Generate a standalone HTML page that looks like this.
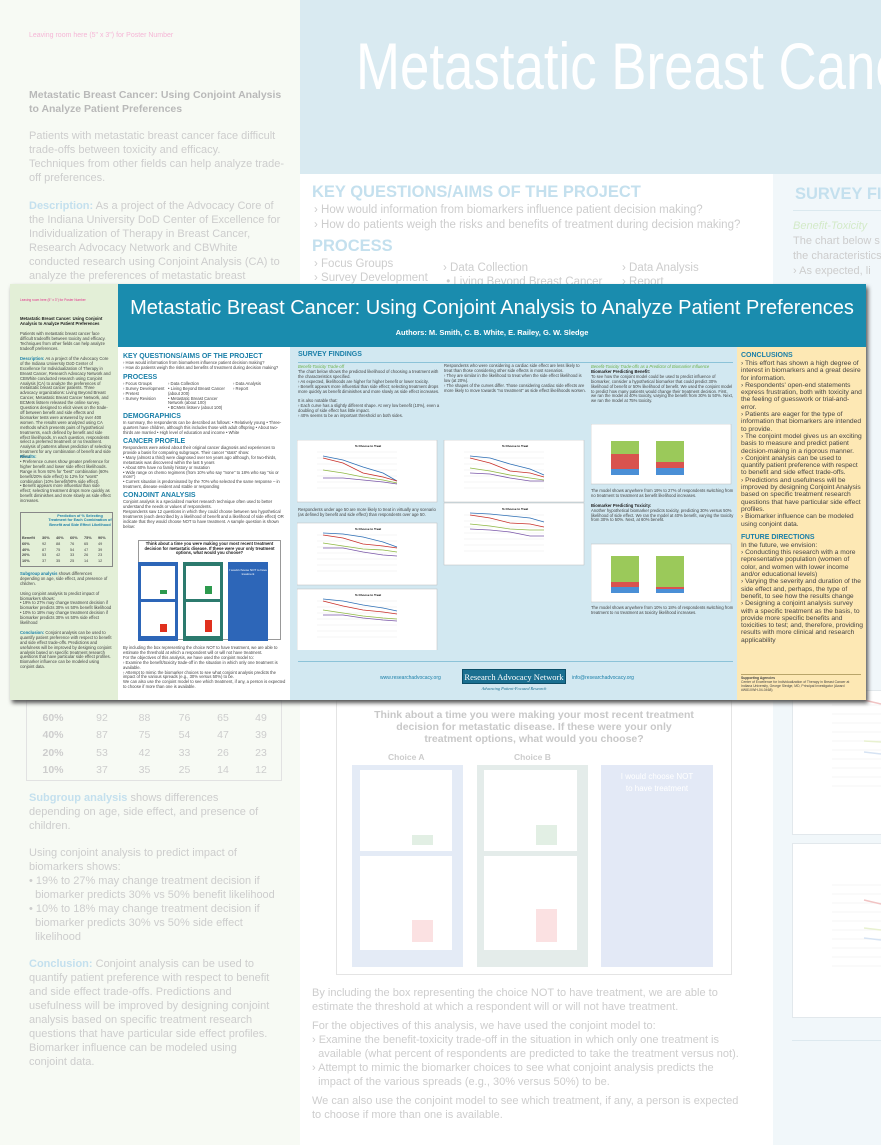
<!DOCTYPE html>
<html><head><meta charset="utf-8"><style>
*{margin:0;padding:0;box-sizing:border-box}
html,body{width:881px;height:1145px;overflow:hidden}
body{position:relative;background:#fff;font-family:"Liberation Sans",sans-serif}
.a{position:absolute}
.bg{color:#cdcdcd;font-size:11px;line-height:14px}
.t{font-size:4.2px;line-height:4.9px;color:#444}
.h{font-weight:bold;color:#1a7fa8;font-size:7px;line-height:8px}
.y{font-size:6.7px;line-height:7.3px;color:#444}
#clip{position:absolute;left:0;top:0;width:881px;height:1145px;overflow:hidden}
</style></head><body>
<div id="clip">
<div class="a" style="left:0;top:0;width:300px;height:1145px;background:#f7faf4"></div>
<div class="a" style="left:300px;top:0;width:581px;height:174px;background:#d9eaf1"></div>
<div class="a" style="left:773px;top:174px;width:108px;height:971px;background:#f1f7fa"></div>
<div class="a" style="left:356px;top:28px;font-size:66px;color:#fff;white-space:nowrap;transform:scaleX(0.8);transform-origin:left top">Metastatic Breast Cancer</div>
<div class="a" style="left:29px;top:32px;font-size:7px;color:#f6b6d6">Leaving room here (5" x 3") for Poster Number</div>
<div class="a" style="left:29px;top:89px;width:260px;font-weight:bold;font-size:10.5px;line-height:13.5px;color:#b9b9b9">Metastatic Breast Cancer: Using Conjoint Analysis to Analyze Patient Preferences</div>
<div class="a bg" style="left:29px;top:129px;width:258px">Patients with metastatic breast cancer face difficult trade-offs between toxicity and efficacy.<br>Techniques from other fields can help analyze trade-off preferences.</div>
<div class="a bg" style="left:29px;top:199px;width:262px"><b style="color:#c4e0ee">Description:</b> As a project of the Advocacy Core of the Indiana University DoD Center of Excellence for Individualization of Therapy in Breast Cancer, Research Advocacy Network and CBWhite conducted research using Conjoint Analysis (CA) to analyze the preferences of metastatic breast</div>
<div class="a" style="left:312px;top:183px;font-size:16.5px;font-weight:bold;color:#c4e0ee;white-space:nowrap">KEY QUESTIONS/AIMS OF THE PROJECT</div>
<div class="a bg" style="left:314px;top:203px;font-size:11.5px;line-height:14.5px;white-space:nowrap">› How would information from biomarkers influence patient decision making?<br>› How do patients weigh the risks and benefits of treatment during decision making?</div>
<div class="a" style="left:312px;top:237px;font-size:16.5px;font-weight:bold;color:#c4e0ee">PROCESS</div>
<div class="a bg" style="left:314px;top:257px;font-size:11.5px">› Focus Groups<br>› Survey Development</div>
<div class="a bg" style="left:443px;top:261px;font-size:11.5px">› Data Collection<br>&nbsp;• Living Beyond Breast Cancer</div>
<div class="a bg" style="left:622px;top:261px;font-size:11.5px">› Data Analysis<br>› Report</div>
<div class="a" style="left:795px;top:185px;font-size:16.5px;font-weight:bold;color:#c4e0ee;white-space:nowrap">SURVEY FI</div>
<div class="a" style="left:793px;top:210px;width:88px;border-top:1px solid #dbe9ef"></div>
<div class="a bg" style="left:793px;top:219px;font-size:11px;line-height:15px;white-space:nowrap"><i style="color:#d3eac8">Benefit-Toxicity</i><br>The chart below s<br>the characteristics<br>› As expected, li</div>
<div class="a" style="left:26px;top:700px;width:256px;height:81px;border:1px solid #e2e2e2"></div>
<div class="a bg" style="left:26px;top:710px;font-size:10.5px;line-height:17.3px;width:256px">
<div style="display:flex"><b style="width:54px;text-align:center">60%</b><span style="width:44px;text-align:center">92</span><span style="width:41px;text-align:center">88</span><span style="width:39px;text-align:center">76</span><span style="width:38px;text-align:center">65</span><span style="width:38px;text-align:center">49</span></div>
<div style="display:flex"><b style="width:54px;text-align:center">40%</b><span style="width:44px;text-align:center">87</span><span style="width:41px;text-align:center">75</span><span style="width:39px;text-align:center">54</span><span style="width:38px;text-align:center">47</span><span style="width:38px;text-align:center">39</span></div>
<div style="display:flex"><b style="width:54px;text-align:center">20%</b><span style="width:44px;text-align:center">53</span><span style="width:41px;text-align:center">42</span><span style="width:39px;text-align:center">33</span><span style="width:38px;text-align:center">26</span><span style="width:38px;text-align:center">23</span></div>
<div style="display:flex"><b style="width:54px;text-align:center">10%</b><span style="width:44px;text-align:center">37</span><span style="width:41px;text-align:center">35</span><span style="width:39px;text-align:center">25</span><span style="width:38px;text-align:center">14</span><span style="width:38px;text-align:center">12</span></div></div>
<div class="a bg" style="left:29px;top:791px;width:262px">
<div><b style="color:#c4e0ee">Subgroup analysis</b> shows differences<br>depending on age, side effect, and presence of<br>children.</div>
<div style="margin-top:13px">Using conjoint analysis to predict impact of<br>biomarkers shows:<br>• 19% to 27% may change treatment decision if<br>&nbsp;&nbsp;biomarker predicts 30% vs 50% benefit likelihood<br>• 10% to 18% may change treatment decision if<br>&nbsp;&nbsp;biomarker predicts 30% vs 50% side effect<br>&nbsp;&nbsp;likelihood</div>
<div style="margin-top:13px"><b style="color:#c4e0ee">Conclusion:</b> Conjoint analysis can be used to<br>quantify patient preference with respect to benefit<br>and side effect trade-offs. Predictions and<br>usefulness will be improved by designing conjoint<br>analysis based on specific treatment research<br>questions that have particular side effect profiles.<br>Biomarker influence can be modeled using<br>conjoint data.</div></div>
<div class="a" style="left:336px;top:700px;width:396px;height:275px;border:1px solid #e4e4e4"></div>
<div class="a" style="left:340px;top:710px;width:388px;text-align:center;font-weight:bold;font-size:10.5px;line-height:11.8px;color:#c8c8c8">Think about a time you were making your most recent treatment<br>decision for metastatic disease. If these were your only<br>treatment options, what would you choose?</div>
<div class="a" style="left:388px;top:752px;font-size:8.5px;font-weight:bold;color:#ccc">Choice A</div>
<div class="a" style="left:514px;top:752px;font-size:8.5px;font-weight:bold;color:#ccc">Choice B</div>
<div class="a" style="left:352px;top:765px;width:111px;height:202px;background:#e4ebf6"></div>
<div class="a" style="left:477px;top:765px;width:111px;height:202px;background:#e4ecea"></div>
<div class="a" style="left:601px;top:765px;width:112px;height:202px;background:#e3e9f6;color:#fff;font-size:8px;text-align:center;padding-top:6px;line-height:12px">I would choose NOT<br>to have treatment</div>
<div class="a" style="left:360px;top:770px;width:92px;height:81px;background:#fff"></div>
<div class="a" style="left:360px;top:856px;width:92px;height:94px;background:#fff"></div>
<div class="a" style="left:484px;top:770px;width:93px;height:81px;background:#fff"></div>
<div class="a" style="left:484px;top:856px;width:93px;height:94px;background:#fff"></div>
<div class="a" style="left:412px;top:835px;width:21px;height:10px;background:#e2efe4"></div>
<div class="a" style="left:536px;top:825px;width:21px;height:20px;background:#e2efe4"></div>
<div class="a" style="left:412px;top:920px;width:21px;height:22px;background:#fbe1e2"></div>
<div class="a" style="left:536px;top:909px;width:21px;height:33px;background:#fbe1e2"></div>
<div class="a bg" style="left:312px;top:986px;width:450px;font-size:11px;line-height:14px;white-space:nowrap">By including the box representing the choice NOT to have treatment, we are able to<br>estimate the threshold at which a respondent will or will not have treatment.<div style="height:5px"></div>For the objectives of this analysis, we have used the conjoint model to:<br>› Examine the benefit-toxicity trade-off in the situation in which only one treatment is<br>&nbsp;&nbsp;available (what percent of respondents are predicted to take the treatment versus not).<br>› Attempt to mimic the biomarker choices to see what conjoint analysis predicts the<br>&nbsp;&nbsp;impact of the various spreads (e.g., 30% versus 50%) to be.<div style="height:5px"></div>We can also use the conjoint model to see which treatment, if any, a person is expected<br>to choose if more than one is available.</div>
<div class="a" style="left:792px;top:690px;width:100px;height:145px;border:1px solid #e2e8ec;background:#fff"></div>
<div class="a" style="left:792px;top:843px;width:100px;height:175px;border:1px solid #e2e8ec;background:#fff"></div>
<div class="a" style="left:792px;top:1040px;width:89px;border-top:1px solid #dde9ef"></div>
<svg class="a" style="left:792px;top:690px" width="89" height="330"><g stroke="#eee" stroke-width="0.6"><path d="M40 15H89M40 24H89M40 33H89M40 42H89M40 51H89M40 60H89M40 69H89M40 78H89M40 87H89M40 96H89"/><path d="M40 195H89M40 204H89M40 213H89M40 222H89M40 231H89M40 240H89M40 249H89M40 258H89M40 267H89M40 276H89"/></g><g stroke-width="1.5" fill="none"><path d="M72 10 L89 14" stroke="#f1c4c4"/><path d="M72 51 L89 52" stroke="#e8f1d0"/><path d="M72 62 L89 64" stroke="#d6e3f3"/><path d="M72 210 L89 214" stroke="#f1c4c4"/><path d="M72 238 L89 240" stroke="#e8f1d0"/><path d="M72 248 L89 250" stroke="#d6e3f3"/></g></svg>

<div class="a" style="left:12px;top:287px;width:856px;height:416px;background:#555;filter:blur(2px)"></div>
<div class="a" style="left:10px;top:284px;width:856px;height:416px;background:#fff;overflow:hidden">
 <div class="a" style="left:0;top:0;width:108px;height:416px;background:#e3efd7"></div>
 <div class="a" style="left:108px;top:0;width:748px;height:63px;background:#1a8cae"></div>
 <div class="a" style="left:280px;top:63px;width:447px;height:353px;background:#d2e8f1"></div>
 <div class="a" style="left:727px;top:63px;width:129px;height:353px;background:#fde8b4"></div>
 <div class="a" style="left:108px;top:13px;width:748px;text-align:center;color:#fff;font-size:20px;white-space:nowrap">Metastatic Breast Cancer: Using Conjoint Analysis to Analyze Patient Preferences</div>
 <div class="a" style="left:108px;top:44px;width:748px;text-align:center;color:#fff;font-size:7.5px;font-weight:bold">Authors: M. Smith, C. B. White, E. Railey, G. W. Sledge</div>
 <div class="a" style="left:10px;top:14px;font-size:3.2px;color:#e0338a">Leaving room here (5" x 3") for Poster Number</div>
 <div class="a t" style="left:10px;top:33px;width:92px;font-weight:bold;color:#222">Metastatic Breast Cancer: Using Conjoint Analysis to Analyze Patient Preferences</div>
 <div class="a t" style="left:10px;top:48px;width:92px">Patients with metastatic breast cancer face difficult tradeoffs between toxicity and efficacy. Techniques from other fields can help analyze tradeoff preferences.</div>
 <div class="a t" style="left:10px;top:73px;width:92px"><b style="color:#1a7fa8">Description:</b> As a project of the Advocacy Core of the Indiana University DoD Center of Excellence for Individualization of Therapy in Breast Cancer, Research Advocacy Network and CBWhite conducted research using Conjoint Analysis (CA) to analyze the preferences of metastatic breast cancer patients. Three advocacy organizations: Living Beyond Breast Cancer, Metastatic Breast Cancer Network, and BCMets listserv released the online survey. Questions designed to elicit views on the trade-off between benefit and side effects and biomarker tests were answered by over 400 women. The results were analyzed using CA methods which presents pairs of hypothetical treatments, each defined by benefit and side effect likelihoods. In each question, respondents select a preferred treatment or no treatment. Analysis of patterns allows prediction of selecting treatment for any combination of benefit and side effect.</div>
 <div class="a t" style="left:10px;top:171px;width:92px"><b style="color:#1a7fa8">Results:</b><br>• Preference curves show greater preference for higher benefit and lower side effect likelihoods. Range is from 92% for "best" combination (60% benefit/20% side effect) to 12% for "worst" combination (10% benefit/90% side effect).<br>• Benefit appears more influential than side effect; selecting treatment drops more quickly as benefit diminishes and more slowly as side effect increases.</div>
 <div class="a" style="left:10px;top:228px;width:93px;height:55px;border:0.5px solid #888"></div>
 <div class="a t" style="left:38px;top:230px;width:64px;text-align:center;font-weight:bold;color:#1a7fa8;font-size:3.8px;line-height:4.4px">Prediction of % Selecting Treatment for Each Combination of Benefit and Side Effect Likelihood</div>
 <div class="a t" style="left:12px;top:252px;font-size:3.8px;line-height:5.8px;width:90px">
 <div style="display:flex;font-weight:bold"><span style="width:20px">Benefit</span><span style="width:14px">30%</span><span style="width:14px">40%</span><span style="width:14px">60%</span><span style="width:14px">75%</span><span>90%</span></div>
 <div style="display:flex"><b style="width:20px">60%</b><span style="width:14px">92</span><span style="width:14px">88</span><span style="width:14px">76</span><span style="width:14px">65</span><span>49</span></div>
 <div style="display:flex"><b style="width:20px">40%</b><span style="width:14px">87</span><span style="width:14px">75</span><span style="width:14px">54</span><span style="width:14px">47</span><span>39</span></div>
 <div style="display:flex"><b style="width:20px">20%</b><span style="width:14px">53</span><span style="width:14px">42</span><span style="width:14px">33</span><span style="width:14px">26</span><span>23</span></div>
 <div style="display:flex"><b style="width:20px">10%</b><span style="width:14px">37</span><span style="width:14px">35</span><span style="width:14px">25</span><span style="width:14px">14</span><span>12</span></div></div>
 <div class="a t" style="left:10px;top:288px;width:92px"><b style="color:#1a7fa8">Subgroup analysis</b> shows differences depending on age, side effect, and presence of children.<br><br>Using conjoint analysis to predict impact of biomarkers shows:<br>• 19% to 27% may change treatment decision if biomarker predicts 30% vs 50% benefit likelihood<br>• 10% to 18% may change treatment decision if biomarker predicts 30% vs 50% side effect likelihood<br><br><b style="color:#1a7fa8">Conclusion:</b> Conjoint analysis can be used to quantify patient preference with respect to benefit and side effect trade-offs. Predictions and usefulness will be improved by designing conjoint analysis based on specific treatment research questions that have particular side effect profiles. Biomarker influence can be modeled using conjoint data.</div>
 <div class="a" style="left:113px;top:69px;width:165px">
  <div class="h">KEY QUESTIONS/AIMS OF THE PROJECT</div>
  <div class="t">› How would information from biomarkers influence patient decision making?<br>› How do patients weigh the risks and benefits of treatment during decision making?</div>
  <div class="h" style="margin-top:3px">PROCESS</div>
  <div class="t" style="display:flex"><div style="width:45px">› Focus Groups<br>› Survey Development<br>› Pretest<br>› Survey Revision</div><div style="width:65px">› Data Collection<br>• Living Beyond Breast Cancer (about 200)<br>• Metastatic Breast Cancer Network (about 100)<br>• BCMets listserv (about 100)</div><div>› Data Analysis<br>› Report</div></div>
  <div class="h" style="margin-top:2px">DEMOGRAPHICS</div>
  <div class="t">In summary, the respondents can be described as follows: • Relatively young • Three-quarters have children, although this includes those with adult offspring • About two-thirds are married • High level of education and income • White</div>
  <div class="h" style="margin-top:2px">CANCER PROFILE</div>
  <div class="t">Respondents were asked about their original cancer diagnosis and experiences to provide a basis for comparing subgroups. Their cancer "stats" show:<br>• Many (almost a third) were diagnosed over ten years ago although, for two-thirds, metastasis was discovered within the last 5 years<br>• About 60% have no family history or mutation<br>• Wide range on chemo regimens (from 10% who say "none" to 18% who say "six or more")<br>• Current situation is predominated by the 70% who selected the same response – in treatment, disease evident and stable or responding</div>
  <div class="h" style="margin-top:2px">CONJOINT ANALYSIS</div>
  <div class="t">Conjoint analysis is a specialized market research technique often used to better understand the needs or values of respondents.<br>Respondents saw 12 questions in which they could choose between two hypothetical treatments (each described by a likelihood of benefit and a likelihood of side effect) OR indicate that they would choose NOT to have treatment. A sample question is shown below:</div>
 </div>
 <div class="a" style="left:128px;top:256px;width:143px;height:100px;border:0.5px solid #999;background:#fff"></div>
 <div class="a" style="left:130px;top:258px;width:139px;text-align:center;font-size:4.2px;line-height:4.5px;font-weight:bold;color:#222">Think about a time you were making your most recent treatment decision for metastatic disease. If these were your only treatment options, what would you choose?</div>
 <div class="a" style="left:128px;top:278px;width:40px;height:79px;background:#2d66b8"></div>
 <div class="a" style="left:173px;top:278px;width:40px;height:79px;background:#2c7a6e"></div>
 <div class="a" style="left:218px;top:278px;width:40px;height:79px;background:#2d66b8;color:#fff;font-size:3px;text-align:center;padding-top:6px">I would choose NOT to have treatment</div>
 <div class="a" style="left:131px;top:282px;width:34px;height:33px;background:#fff"></div>
 <div class="a" style="left:131px;top:318px;width:34px;height:34px;background:#fff"></div>
 <div class="a" style="left:176px;top:282px;width:34px;height:33px;background:#fff"></div>
 <div class="a" style="left:176px;top:318px;width:34px;height:34px;background:#fff"></div>
 <div class="a" style="left:150px;top:306px;width:7px;height:4px;background:#2d9a4e"></div>
 <div class="a" style="left:195px;top:302px;width:7px;height:8px;background:#2d9a4e"></div>
 <div class="a" style="left:150px;top:340px;width:7px;height:8px;background:#e0301e"></div>
 <div class="a" style="left:195px;top:336px;width:7px;height:12px;background:#e0301e"></div>
 <div class="a t" style="left:113px;top:362px;width:165px">By including the box representing the choice NOT to have treatment, we are able to estimate the threshold at which a respondent will or will not have treatment.<br>For the objectives of this analysis, we have used the conjoint model to:<br>› Examine the benefit/toxicity trade-off in the situation in which only one treatment is available.<br>› Attempt to mimic the biomarker choices to see what conjoint analysis predicts the impact of the various spreads (e.g., 30% versus 50%) to be.<br>We can also use the conjoint model to see which treatment, if any, a person is expected to choose if more than one is available.</div>
 <div class="a" style="left:288px;top:67px;width:146px"><div class="h">SURVEY FINDINGS</div></div>
 <div class="a" style="left:288px;top:78px;width:435px;border-top:0.5px solid #8cc3d8"></div>
 <div class="a t" style="left:288px;top:81px;width:143px"><i style="color:#6bb04a">Benefit-Toxicity Trade-off</i><br>The chart below shows the predicted likelihood of choosing a treatment with the characteristics specified.<br>› As expected, likelihoods are higher for higher benefit or lower toxicity.<br>› Benefit appears more influential than side effect; selecting treatment drops more quickly as benefit diminishes and more slowly as side effect increases.<br><br>It is also notable that:<br>› Each curve has a slightly different shape. At very low benefit (10%), even a doubling of side effect has little impact.<br>› 40% seems to be an important threshold on both sides.</div>
 <div class="a t" style="left:288px;top:224px;width:143px">Respondents under age 50 are more likely to treat in virtually any scenario (as defined by benefit and side effect) than respondents over age 50.</div>
 <div class="a t" style="left:434px;top:80px;width:143px">Respondents who were considering a cardiac side effect are less likely to treat than those considering other side effects in most scenarios.<br>› They are similar in the likelihood to treat when the side effect likelihood is low (at 20%).<br>› The shapes of the curves differ. Those considering cardiac side effects are more likely to move towards "no treatment" as side effect likelihoods worsen.</div>
 <div class="a t" style="left:434px;top:266px;width:143px">Respondents with no children have similar responses as women with children 12 and over, while respondents with younger children (under age 12) are more likely to treat in virtually every scenario.</div>
 <div class="a t" style="left:581px;top:81px;width:143px"><i style="color:#6bb04a">Benefit-Toxicity Trade-offs as a Predictor of Biomarker Influence</i><br><b style="color:#222">Biomarker Predicting Benefit:</b><br>To see how the conjoint model could be used to predict influence of biomarker, consider a hypothetical biomarker that could predict 30% likelihood of benefit or 50% likelihood of benefit. We used the conjoint model to predict how many patients would change their treatment decision. First, we ran the model at 40% toxicity, varying the benefit from 30% to 50%. Next, we ran the model at 75% toxicity.</div>
 <div class="a t" style="left:581px;top:205px;width:143px">The model shows anywhere from 19% to 27% of respondents switching from no treatment to treatment as benefit likelihood increases.<br><br><b style="color:#222">Biomarker Predicting Toxicity:</b><br>Another hypothetical biomarker predicts toxicity, predicting 30% versus 50% likelihood of side effect. We ran the model at 40% benefit, varying the toxicity from 30% to 50%. Next, at 60% benefit.</div>
 <div class="a t" style="left:581px;top:322px;width:143px">The model shows anywhere from 10% to 18% of respondents switching from treatment to no treatment as toxicity likelihood increases.</div>
 <svg class="a" style="left:287px;top:156px" width="295" height="210" font-family="Liberation Sans" font-size="3">
  <defs><g id="lc"><rect x="0" y="0" width="140" height="62" fill="#fff" stroke="#bbb" stroke-width="0.5"/><text x="58" y="7" font-weight="bold">% Choose to Treat</text><g stroke="#ddd" stroke-width="0.3"><path d="M20 12H100M20 18H100M20 24H100M20 30H100M20 36H100M20 42H100M20 48H100"/></g></g></defs>
  <use href="#lc" x="0" y="0"/>
  <polyline points="26,16 46,20 66,27 86,33 100,41" fill="none" stroke="#2e6fb5" stroke-width="0.8"/><polyline points="26,18 46,23 66,33 86,37 100,41" fill="none" stroke="#c8302a" stroke-width="0.8"/><polyline points="26,30 46,33 66,37 86,40 100,43" fill="none" stroke="#8fb844" stroke-width="0.8"/><polyline points="26,38 46,38 66,40 86,42 100,44" fill="none" stroke="#7a57a8" stroke-width="0.8"/>
  <use href="#lc" x="0" y="83"/>
  <polyline points="26,93 46,94 66,97 86,102 100,107" fill="none" stroke="#2e6fb5" stroke-width="0.8"/><polyline points="26,95 46,98 66,104 86,106 100,108" fill="none" stroke="#c8302a" stroke-width="0.8"/><polyline points="26,103 46,106 66,109 86,110 100,112" fill="none" stroke="#8fb844" stroke-width="0.8"/><polyline points="26,108 46,108 66,112 86,115 100,116" fill="none" stroke="#7a57a8" stroke-width="0.8"/>
  <use href="#lc" x="0" y="149"/>
  <polyline points="26,159 46,161 66,165 86,168 100,171" fill="none" stroke="#2e6fb5" stroke-width="0.8"/><polyline points="26,161 46,166 66,170 86,172 100,174" fill="none" stroke="#c8302a" stroke-width="0.8"/><polyline points="26,170 46,173 66,176 86,178 100,179" fill="none" stroke="#8fb844" stroke-width="0.8"/><polyline points="26,175 46,175 66,178 86,180 100,181" fill="none" stroke="#7a57a8" stroke-width="0.8"/>
  <use href="#lc" x="147" y="0"/>
  <polyline points="173,16 193,18 213,24 233,29 247,35" fill="none" stroke="#2e6fb5" stroke-width="0.8"/><polyline points="173,18 193,23 213,31 233,33 247,37" fill="none" stroke="#c8302a" stroke-width="0.8"/><polyline points="173,28 193,31 213,35 233,38 247,40" fill="none" stroke="#8fb844" stroke-width="0.8"/><polyline points="173,33 193,34 213,38 233,41 247,41" fill="none" stroke="#7a57a8" stroke-width="0.8"/>
  <use href="#lc" x="147" y="63"/>
  <polyline points="173,73 193,74 213,76 233,78 247,82" fill="none" stroke="#2e6fb5" stroke-width="0.8"/><polyline points="173,75 193,78 213,83 233,84 247,87" fill="none" stroke="#c8302a" stroke-width="0.8"/><polyline points="173,84 193,86 213,89 233,90 247,90" fill="none" stroke="#8fb844" stroke-width="0.8"/><polyline points="173,89 193,90 213,92 233,96 247,96" fill="none" stroke="#7a57a8" stroke-width="0.8"/>
 </svg>
 <svg class="a" style="left:581px;top:140px" width="145" height="180">
  <rect x="0" y="0" width="140" height="60" fill="#fff" stroke="#bbb" stroke-width="0.5"/>
  <rect x="20" y="17" width="28" height="13" fill="#9bc95a"/><rect x="20" y="30" width="28" height="15" fill="#d9534f"/><rect x="20" y="45" width="28" height="6" fill="#4a8fd6"/>
  <rect x="65" y="17" width="28" height="21" fill="#9bc95a"/><rect x="65" y="38" width="28" height="6" fill="#d9534f"/><rect x="65" y="44" width="28" height="7" fill="#4a8fd6"/>
  <rect x="0" y="120" width="140" height="58" fill="#fff" stroke="#bbb" stroke-width="0.5"/>
  <rect x="20" y="132" width="28" height="26" fill="#9bc95a"/><rect x="20" y="158" width="28" height="5" fill="#d9534f"/><rect x="20" y="163" width="28" height="6" fill="#4a8fd6"/>
  <rect x="65" y="132" width="28" height="31" fill="#9bc95a"/><rect x="65" y="163" width="28" height="2" fill="#d9534f"/><rect x="65" y="165" width="28" height="4" fill="#4a8fd6"/>
 </svg>
 <div class="a" style="left:288px;top:377px;width:435px;border-top:0.5px solid #8cc3d8"></div>
 <div class="a" style="left:370px;top:391px;font-size:5px;color:#1a7fa8">www.researchadvocacy.org</div>
 <div class="a" style="left:452px;top:385px;width:104px;height:15px;background:#1a6f90;color:#fff;font-family:'Liberation Serif',serif;font-size:8.5px;text-align:center;line-height:15px;border:0.5px solid #0c4e68">Research Advocacy Network</div>
 <div class="a" style="left:452px;top:402px;width:104px;text-align:center;font-family:'Liberation Serif',serif;font-style:italic;font-size:4.3px;color:#1a6f90">Advancing Patient-Focused Research</div>
 <div class="a" style="left:562px;top:391px;font-size:5px;color:#1a7fa8">info@researchadvocacy.org</div>
 <div class="a" style="left:731px;top:68px;width:122px">
  <div class="h">CONCLUSIONS</div>
  <div class="y">› This effort has shown a high degree of interest in biomarkers and a great desire for information.<br>› Respondents' open-end statements express frustration, both with toxicity and the feeling of guesswork or trial-and-error.<br>› Patients are eager for the type of information that biomarkers are intended to provide.<br>› The conjoint model gives us an exciting basis to measure and predict patient decision-making in a rigorous manner.<br>› Conjoint analysis can be used to quantify patient preference with respect to benefit and side effect trade-offs.<br>› Predictions and usefulness will be improved by designing Conjoint Analysis based on specific treatment research questions that have particular side effect profiles.<br>› Biomarker influence can be modeled using conjoint data.</div>
  <div class="h" style="margin-top:6px">FUTURE DIRECTIONS</div>
  <div class="y">In the future, we envision:<br>› Conducting this research with a more representative population (women of color, and women with lower income and/or educational levels)<br>› Varying the severity and duration of the side effect and, perhaps, the type of benefit, to see how the results change<br>› Designing a conjoint analysis survey with a specific treatment as the basis, to provide more specific benefits and toxicities to test; and, therefore, providing results with more clinical and research applicability</div>
 </div>
 <div class="a" style="left:731px;top:390px;width:120px;border-top:0.5px solid #b9a56a"></div>
 <div class="a t" style="left:731px;top:392px;width:120px;font-size:3.4px;line-height:4px"><b>Supporting Agencies</b><br>Center of Excellence for Individualization of Therapy in Breast Cancer at Indiana University, George Sledge, MD, Principal Investigator (Award #W81XWH-04-0468)</div>
</div>
</div>
</body></html>
